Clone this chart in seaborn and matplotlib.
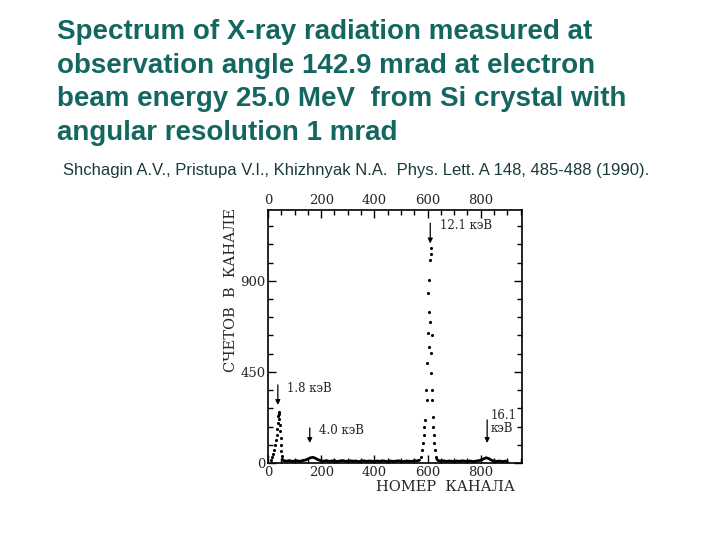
import numpy as np
import pandas as pd
import seaborn as sns
import matplotlib.pyplot as plt
from matplotlib.ticker import MultipleLocator

# title / citation text
title_lines = [
    "Spectrum of X-ray radiation measured at",
    "observation angle 142.9 mrad at electron",
    "beam energy 25.0 MeV  from Si crystal with",
    "angular resolution 1 mrad",
]
citation = "Shchagin A.V., Pristupa V.I., Khizhnyak N.A.  Phys. Lett. A 148, 485-488 (1990)."

# spectrum (channel, counts)
peak1_ch = [12, 16, 19, 22, 26, 29, 32, 34, 36, 38, 40, 42, 43, 44, 46, 47, 49, 50, 52, 54]
peak1_counts = [15, 28, 45, 62, 90, 115, 140, 170, 200, 230, 252, 240, 215, 190, 160, 125, 90, 60, 35, 20]

peak3_ch = [575, 579, 583, 586, 588, 592, 595, 598, 598, 604, 602, 604, 608, 602, 604,
            610, 613, 613, 617, 614, 614, 617, 617, 620, 620, 623, 625, 629, 632]
peak3_counts = [30, 64, 99, 138, 180, 213, 361, 311, 494, 575, 643, 748, 699, 839, 905,
                1004, 1034, 1063, 633, 544, 445, 361, 311, 229, 180, 138, 99, 64, 30]

bg_left_ch = [56, 60, 70, 80, 90, 100, 110, 120, 130, 140, 150, 160, 170, 180, 190, 200,
              210, 220, 230, 240, 250, 260, 270, 280, 290, 300, 310, 320, 330, 340, 350,
              360, 370, 380, 390, 400, 410, 420, 430, 440, 450, 460, 470, 480, 490, 500,
              510, 520, 530, 540, 550, 560, 570]
bg_left_counts = [14, 11, 9, 12, 8, 10, 11, 8, 12, 14, 20, 26, 28, 22, 15, 11,
                  9, 12, 8, 10, 11, 7, 10, 12, 9, 8, 11, 9, 10, 7, 9,
                  11, 8, 10, 9, 7, 10, 8, 11, 9, 7, 10, 8, 9, 11, 8,
                  7, 10, 9, 8, 11, 10, 14]

bg_right_ch = [635, 640, 650, 660, 670, 680, 690, 700, 710, 720, 730, 740, 750, 760,
               770, 780, 790, 800, 810, 820, 830, 840, 850, 860, 870, 880, 890, 900]
bg_right_counts = [18, 12, 9, 11, 8, 10, 9, 7, 10, 8, 11, 9, 8, 10,
                   7, 9, 11, 14, 20, 26, 22, 14, 9, 8, 10, 7, 9, 8]

# line labels: (text, arrow x, arrow top, arrow tip, text x, text y)
line_names = ["1.8 кэВ", "4.0 кэВ", "12.1 кэВ", "16.1\nкэВ"]
line_ch = [37, 157, 610, 824]
line_top = [386, 173, 1185, 213]
line_tip = [287, 99, 1085, 99]
label_x = [72, 192, 648, 838]
label_y = [366, 163, 1175, 205]

sns.set_style("white")
plt.rcParams["font.family"] = ["DejaVu Serif"]

fig = plt.figure(figsize=(7.2, 5.4), dpi=100)

teal = "#146660"
for i, line in enumerate(title_lines):
    fig.text(57 / 720, 1 - (32 + 33.7 * i) / 540, line, fontsize=20, fontweight="bold",
             color=teal, family=["Liberation Sans", "DejaVu Sans"], va="center", ha="left")
fig.text(63 / 720, 1 - 171 / 540, citation, fontsize=12, color="#1b3b3b",
         family=["Liberation Sans", "DejaVu Sans"], va="center", ha="left")

ax = fig.add_axes([268 / 720, 1 - 463 / 540, (522 - 268) / 720, (463 - 210) / 540])

bg_l = pd.DataFrame({"ch": bg_left_ch, "counts": bg_left_counts})
bg_r = pd.DataFrame({"ch": bg_right_ch, "counts": bg_right_counts})
sns.lineplot(data=bg_l, x="ch", y="counts", color="black", lw=2, ax=ax)
sns.lineplot(data=bg_r, x="ch", y="counts", color="black", lw=2, ax=ax)

dots = pd.DataFrame({"ch": peak1_ch + peak3_ch, "counts": peak1_counts + peak3_counts})
sns.scatterplot(data=dots, x="ch", y="counts", color="black", s=5, linewidth=0, ax=ax)

for name, x, y0, y1, tx, ty in zip(line_names, line_ch, line_top, line_tip, label_x, label_y):
    ax.annotate("", xy=(x, y1), xytext=(x, y0),
                arrowprops=dict(arrowstyle="-|>", color="black", lw=0.9,
                                mutation_scale=7, shrinkA=0, shrinkB=0))
    ax.text(tx, ty, name, fontsize=8.5, va="center", ha="left", linespacing=1.0)

ax.set_xlim(0, 955)
ax.set_ylim(0, 1250)
ax.set_xticks([0, 200, 400, 600, 800])
ax.set_yticks([0, 450, 900])
ax.xaxis.set_minor_locator(MultipleLocator(50))
ax.yaxis.set_minor_locator(MultipleLocator(90))
ax.tick_params(which="both", direction="in", top=True, right=True, bottom=True, left=True,
               labeltop=True, labelbottom=True, labelsize=9.5, pad=2, color="black")
ax.tick_params(which="major", length=6, width=1)
ax.tick_params(which="minor", length=3.5, width=1)
for sp in ax.spines.values():
    sp.set_color("black")
    sp.set_linewidth(1.2)
ax.set_xlabel("")
ax.set_ylabel("")

ax.text(-0.146, 0.684, "СЧЕТОВ  В  КАНАЛЕ", transform=ax.transAxes, rotation=90,
        ha="center", va="center", fontsize=10.5)
ax.text(0.70, -0.095, "НОМЕР  КАНАЛА", transform=ax.transAxes,
        ha="center", va="center", fontsize=10.5)

fig.savefig("out.png", dpi=100)
